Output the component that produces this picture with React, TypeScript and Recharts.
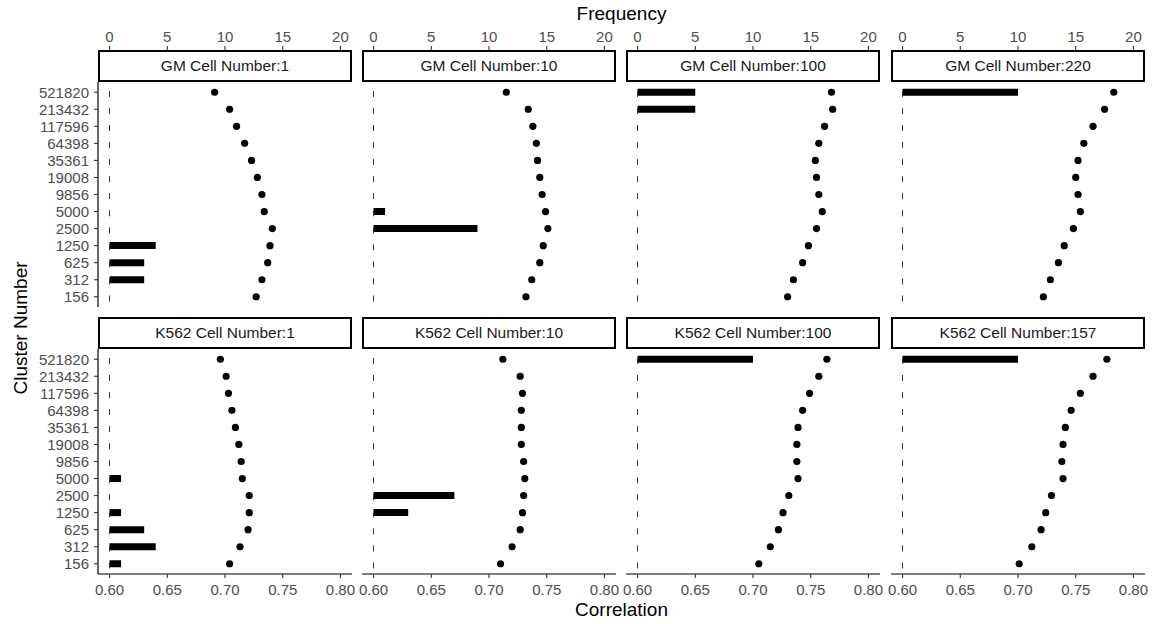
import React from 'react';
import { ComposedChart, Bar, Scatter, XAxis, YAxis, ReferenceLine } from 'recharts';

// cluster sizes, top row to bottom row
const clusters = ['521820', '213432', '117596', '64398', '35361', '19008', '9856', '5000', '2500', '1250', '625', '312', '156'];

const freqTicks = [0, 5, 10, 15, 20];
const corrTicks = [0.6, 0.65, 0.7, 0.75, 0.8];

// GM panels
const gm1Corr = [0.691, 0.704, 0.71, 0.717, 0.723, 0.728, 0.732, 0.734, 0.741, 0.739, 0.737, 0.732, 0.727];
const gm1Freq = [0, 0, 0, 0, 0, 0, 0, 0, 0, 4, 3, 3, 0];
const gm10Corr = [0.715, 0.734, 0.738, 0.741, 0.742, 0.744, 0.746, 0.749, 0.751, 0.747, 0.744, 0.737, 0.732];
const gm10Freq = [0, 0, 0, 0, 0, 0, 0, 1, 9, 0, 0, 0, 0];
const gm100Corr = [0.768, 0.769, 0.762, 0.757, 0.754, 0.755, 0.757, 0.76, 0.755, 0.748, 0.743, 0.735, 0.73];
const gm100Freq = [5, 5, 0, 0, 0, 0, 0, 0, 0, 0, 0, 0, 0];
const gm220Corr = [0.783, 0.775, 0.765, 0.757, 0.752, 0.75, 0.752, 0.754, 0.748, 0.74, 0.735, 0.728, 0.722];
const gm220Freq = [10, 0, 0, 0, 0, 0, 0, 0, 0, 0, 0, 0, 0];

// K562 panels
const k1Corr = [0.696, 0.701, 0.703, 0.706, 0.709, 0.712, 0.714, 0.715, 0.721, 0.721, 0.72, 0.713, 0.704];
const k1Freq = [0, 0, 0, 0, 0, 0, 0, 1, 0, 1, 3, 4, 1];
const k10Corr = [0.712, 0.727, 0.729, 0.728, 0.728, 0.728, 0.73, 0.731, 0.73, 0.729, 0.727, 0.72, 0.71];
const k10Freq = [0, 0, 0, 0, 0, 0, 0, 0, 7, 3, 0, 0, 0];
const k100Corr = [0.764, 0.757, 0.749, 0.743, 0.739, 0.738, 0.738, 0.739, 0.731, 0.726, 0.722, 0.715, 0.705];
const k100Freq = [10, 0, 0, 0, 0, 0, 0, 0, 0, 0, 0, 0, 0];
const k157Corr = [0.777, 0.765, 0.754, 0.746, 0.741, 0.739, 0.738, 0.739, 0.729, 0.724, 0.72, 0.712, 0.701];
const k157Freq = [10, 0, 0, 0, 0, 0, 0, 0, 0, 0, 0, 0, 0];

const panels = [
  { title: 'GM Cell Number:1', corr: gm1Corr, freq: gm1Freq },
  { title: 'GM Cell Number:10', corr: gm10Corr, freq: gm10Freq },
  { title: 'GM Cell Number:100', corr: gm100Corr, freq: gm100Freq },
  { title: 'GM Cell Number:220', corr: gm220Corr, freq: gm220Freq },
  { title: 'K562 Cell Number:1', corr: k1Corr, freq: k1Freq },
  { title: 'K562 Cell Number:10', corr: k10Corr, freq: k10Freq },
  { title: 'K562 Cell Number:100', corr: k100Corr, freq: k100Freq },
  { title: 'K562 Cell Number:157', corr: k157Corr, freq: k157Freq },
];

const FONT = '"Liberation Sans", Arial, Helvetica, sans-serif';
const TICK_FONT = 15;
const STRIP_FONT = 15.5;
const TITLE_FONT = 19;
const PLOT_W = 254;
const PLOT_H = 225;
const COL_X = [98, 362, 626, 891];
const ROW_Y = [82, 349];
const STRIP_H = 32;
const Y_AXIS_W = 70;
const TOP_AXIS_H = 52;
const BOTTOM_AXIS_H = 30;
// spare room round each chart so edge labels are not clipped
const M = 20;
// discrete axis padded like ggplot (0.6 of a step at each end)
const STEP = PLOT_H / 13.2;
const PAD = STEP * 0.1;

const tickStyle = { fill: '#4d4d4d', fontSize: TICK_FONT };

// frequency ticks sit above the facet strip
function TopTick(props: any) {
  const { x, y, payload } = props;
  const base = y - STRIP_H;
  return (
    <g>
      <line x1={x} x2={x} y1={base} y2={base - 4} stroke="#333" strokeWidth={1.1} />
      <text x={x} y={base - 8.5} textAnchor="middle" fill="#4d4d4d" fontSize={TICK_FONT}>
        {payload.value}
      </text>
    </g>
  );
}

function Dot(props: any) {
  return <circle cx={props.cx} cy={props.cy} r={3.6} fill="#000" />;
}

function Panel({ title, corr, freq, row, col }: any) {
  const data = clusters.map((cluster, i) => ({ cluster, corr: corr[i], freq: freq[i] }));
  const showY = col === 0;
  const showTop = row === 0;
  const showBottom = row === 1;
  const left = COL_X[col] - (showY ? Y_AXIS_W : 0) - M;
  const top = ROW_Y[row] - (showTop ? TOP_AXIS_H : 0) - M;
  const width = PLOT_W + (showY ? Y_AXIS_W : 0) + 2 * M;
  const height = PLOT_H + (showTop ? TOP_AXIS_H : 0) + (showBottom ? BOTTOM_AXIS_H : 0) + 2 * M;

  return (
    <>
      <div style={{ position: 'absolute', left, top, width, height }}>
        <ComposedChart
          width={width}
          height={height}
          data={data}
          layout="vertical"
          margin={{ top: M, right: M, bottom: M, left: M }}
        >
          <XAxis
            xAxisId="freq"
            type="number"
            orientation="top"
            domain={[-1, 21]}
            ticks={freqTicks}
            interval={0}
            hide={!showTop}
            height={TOP_AXIS_H}
            axisLine={false}
            tickLine={false}
            tickSize={0}
            tickMargin={0}
            tick={<TopTick />}
          />
          <XAxis
            xAxisId="corr"
            dataKey="corr"
            type="number"
            orientation="bottom"
            domain={[0.59, 0.81]}
            ticks={corrTicks}
            interval={0}
            hide={!showBottom}
            height={BOTTOM_AXIS_H}
            tickFormatter={(v: number) => v.toFixed(2)}
            axisLine={{ stroke: '#000', strokeWidth: 1.2 }}
            tickLine={{ stroke: '#333', strokeWidth: 1.1 }}
            tickSize={4}
            tickMargin={6}
            tick={tickStyle}
          />
          <YAxis
            type="category"
            dataKey="cluster"
            width={Y_AXIS_W}
            hide={!showY}
            interval={0}
            padding={{ top: PAD, bottom: PAD }}
            axisLine={{ stroke: '#000', strokeWidth: 1.2 }}
            tickLine={{ stroke: '#333', strokeWidth: 1.1 }}
            tickSize={4}
            tickMargin={5}
            tick={tickStyle}
          />
          <ReferenceLine
            xAxisId="corr"
            x={0.6}
            stroke="#333"
            strokeWidth={1}
            strokeDasharray={`6 ${STEP - 6}`}
            strokeDashoffset={STEP - (STEP / 2 - 3)}
          />
          <Bar xAxisId="freq" dataKey="freq" barSize={7} fill="#000" isAnimationActive={false} />
          <Scatter xAxisId="corr" dataKey="corr" shape={Dot} isAnimationActive={false} />
        </ComposedChart>
      </div>
      <div
        style={{
          position: 'absolute',
          left: COL_X[col],
          top: ROW_Y[row] - STRIP_H,
          width: PLOT_W,
          height: STRIP_H,
          boxSizing: 'border-box',
          border: '2px solid #000',
          background: '#fff',
          display: 'flex',
          alignItems: 'center',
          justifyContent: 'center',
          fontSize: STRIP_FONT,
          color: '#1a1a1a',
        }}
      >
        {title}
      </div>
    </>
  );
}

export default function App() {
  const centerX = (COL_X[0] + COL_X[3] + PLOT_W) / 2;
  const centerY = (ROW_Y[0] + ROW_Y[1] + PLOT_H) / 2;
  return (
    <div
      style={{
        position: 'absolute',
        left: 0,
        top: 0,
        width: 1155,
        height: 624,
        background: '#fff',
        fontFamily: FONT,
        overflow: 'hidden',
      }}
    >
      {panels.map((p, i) => (
        <Panel key={p.title} {...p} row={Math.floor(i / 4)} col={i % 4} />
      ))}
      <svg
        width={1155}
        height={624}
        style={{ position: 'absolute', left: 0, top: 0, pointerEvents: 'none' }}
      >
        <text x={centerX} y={19.5} textAnchor="middle" fontSize={TITLE_FONT} fill="#000">
          Frequency
        </text>
        <text x={centerX} y={616} textAnchor="middle" fontSize={TITLE_FONT} fill="#000">
          Correlation
        </text>
        <text
          x={26.5}
          y={centerY}
          textAnchor="middle"
          fontSize={TITLE_FONT}
          fill="#000"
          transform={`rotate(-90 26.5 ${centerY})`}
        >
          Cluster Number
        </text>
      </svg>
    </div>
  );
}
